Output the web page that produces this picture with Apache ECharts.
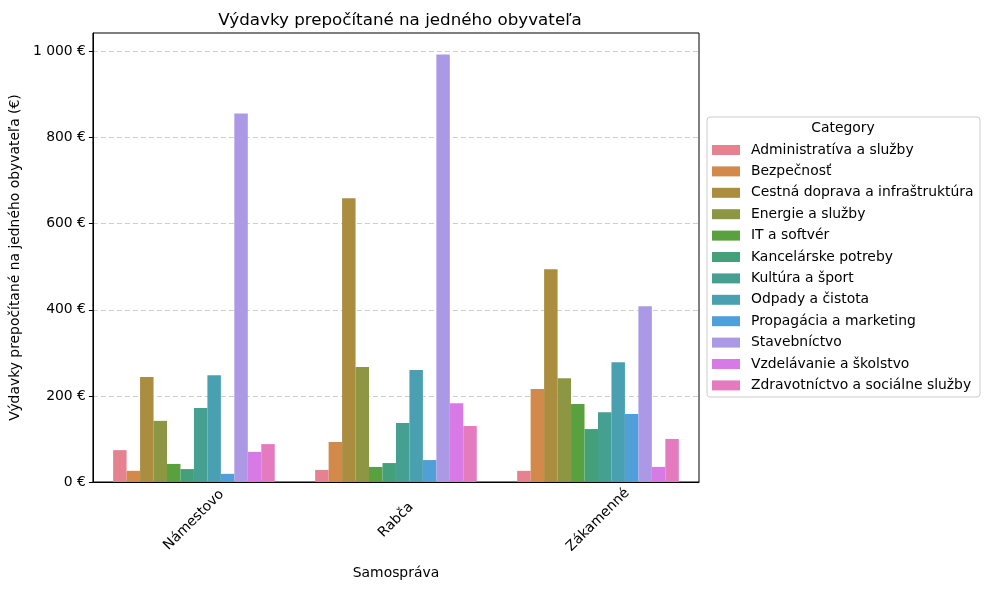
<!DOCTYPE html>
<html>
<head>
<meta charset="utf-8">
<script src="https://cdn.jsdelivr.net/npm/echarts@6/dist/echarts.min.js"></script>
<style>
  html, body { margin: 0; padding: 0; background: #fff; }
  #chart { width: 989px; height: 590px; }
</style>
</head>
<body>
<div id="chart"></div>
<script>
var myChart = echarts.init(document.getElementById('chart'));

// obce (x-os)
var towns = ['Námestovo', 'Rabča', 'Zákamenné'];

// kategórie výdavkov (legenda)
var categories = [
	'Administratíva a služby',
	'Bezpečnosť',
	'Cestná doprava a infraštruktúra',
	'Energie a služby',
	'IT a softvér',
	'Kancelárske potreby',
	'Kultúra a šport',
	'Odpady a čistota',
	'Propagácia a marketing',
	'Stavebníctvo',
	'Vzdelávanie a školstvo',
	'Zdravotníctvo a sociálne služby'
];

// hodnoty na obyvateľa, poradie ako towns
var admin = [74, 28, 26];
var bezpecnost = [26, 93, 216];
var cestna = [244, 659, 494];
var energie = [142, 267, 241];
var it = [42, 35, 181];
var kancel = [30, 44, 123];
var kultura = [172, 137, 162];
var odpady = [248, 260, 278];
var propagacia = [19, 51, 158];
var stavebnictvo = [856, 993, 408];
var vzdelavanie = [70, 183, 35];
var zdravotnictvo = [88, 130, 100];

var values = [admin, bezpecnost, cestna, energie, it, kancel, kultura, odpady, propagacia, stavebnictvo, vzdelavanie, zdravotnictvo];

// popisky osi y
var yTicks = [0, 200, 400, 600, 800, 1000];

var colors = ['#e6818f', '#d2894a', '#ab8d3f', '#8d9642', '#58a13e', '#44a07a',
	'#46a091', '#48a0b1', '#519fd8', '#ab99e6', '#d87ae5', '#e37bbe'];

var font = 'DejaVu Sans';
var fs = 13.9;

var series = categories.map(function (name, i) {
	return {
		name: name,
		type: 'bar',
		data: values[i],
		barGap: 0,
		barCategoryGap: '20%',
		itemStyle: { color: colors[i] }
	};
});

myChart.setOption({
	animation: false,
	textStyle: { fontFamily: font },
	title: {
		text: 'Výdavky prepočítané na jedného obyvateľa',
		left: 395,
		textAlign: 'center',
		top: 7,
		textStyle: { fontFamily: font, fontSize: 16.7, fontWeight: 'normal', color: '#000' }
	},
	grid: {
		left: 90,
		right: 290,
		top: 33,
		bottom: 108,
		show: true,
		borderColor: '#000',
		borderWidth: 1
	},
	legend: {
		orient: 'vertical',
		left: 712,
		top: 143,
		padding: 0,
		itemWidth: 28,
		itemHeight: 10,
		itemGap: 7.4,
		icon: 'rect',
		data: categories,
		textStyle: { fontFamily: font, fontSize: fs, color: '#000', lineHeight: 14, padding: [0, 0, 0, 6] }
	},
	graphic: [
		{
			type: 'rect',
			shape: { x: 707, y: 117, width: 273, height: 280, r: 3 },
			style: { fill: 'rgba(255,255,255,0.8)', stroke: '#cccccc', lineWidth: 1 },
			z: -1
		},
		{
			type: 'text',
			x: 843,
			y: 128,
			style: { text: 'Category', font: fs + 'px "DejaVu Sans"', fill: '#000', textAlign: 'center', textVerticalAlign: 'middle' }
		}
	],
	xAxis: {
		type: 'category',
		data: towns,
		name: 'Samospráva',
		nameLocation: 'middle',
		nameGap: 84,
		nameTextStyle: { fontFamily: font, fontSize: fs, color: '#000' },
		axisLine: { lineStyle: { color: '#000' } },
		axisTick: { alignWithLabel: true, length: 4, lineStyle: { color: '#000' } },
		axisLabel: {
			rotate: 45,
			align: 'center',
			verticalAlign: 'middle',
			margin: 38,
			fontFamily: font,
			fontSize: fs,
			color: '#000'
		}
	},
	yAxis: {
		type: 'value',
		min: 0,
		max: 1043,
		interval: 200,
		name: 'Výdavky prepočítané na jedného obyvateľa (€)',
		nameLocation: 'middle',
		nameGap: 62,
		nameTextStyle: { fontFamily: font, fontSize: fs, color: '#000' },
		axisLine: { show: true, lineStyle: { color: '#000' } },
		axisTick: { show: true, length: 4, lineStyle: { color: '#000' }, customValues: yTicks },
		splitLine: { show: true, lineStyle: { color: '#c0c0c0', type: [5, 3], width: 0.8 } },
		axisLabel: {
			customValues: yTicks,
			fontFamily: font,
			fontSize: fs,
			color: '#000',
			margin: 7,
			formatter: function (v) {
				return String(v).replace(/\B(?=(\d{3})+(?!\d))/g, ' ') + ' €';
			}
		}
	},
	series: series
});
</script>
</body>
</html>
